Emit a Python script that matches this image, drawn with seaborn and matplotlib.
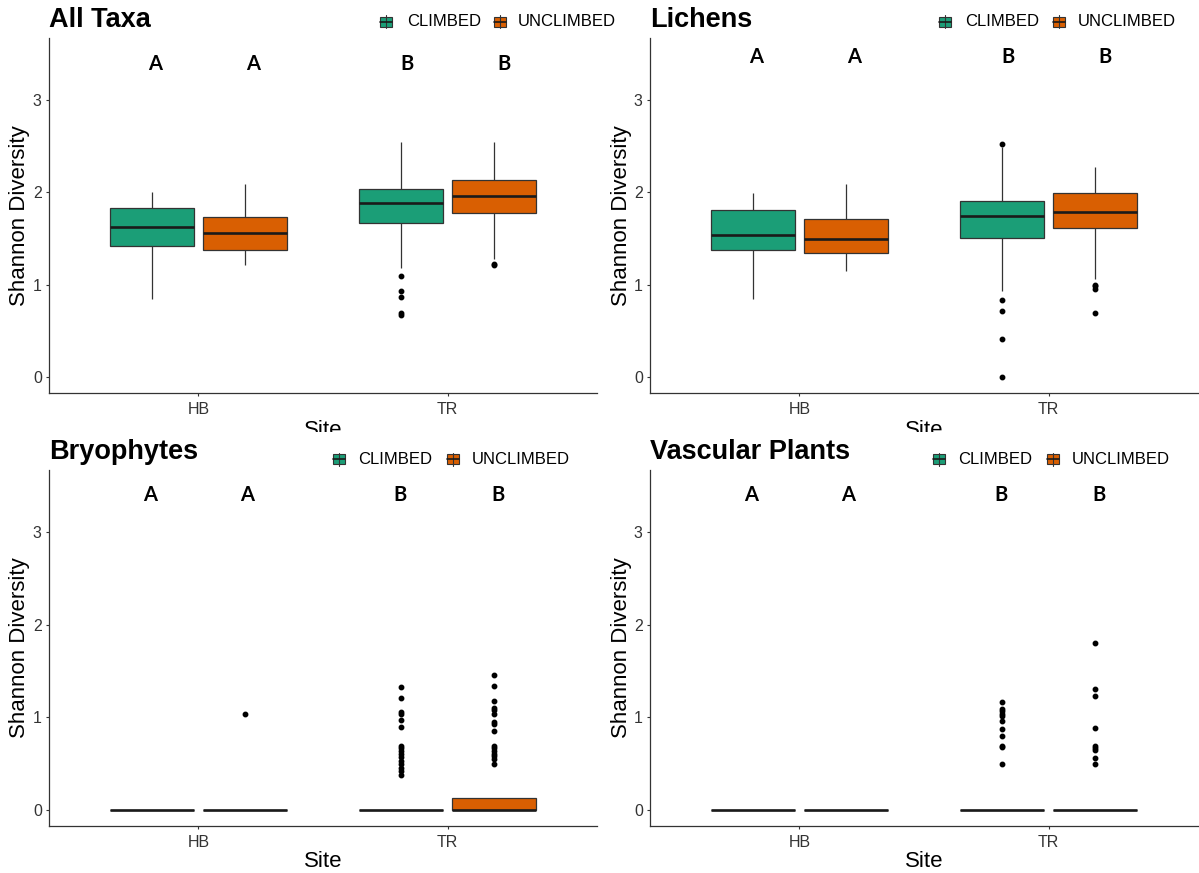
import numpy as np
import pandas as pd
import matplotlib
matplotlib.use("Agg")
import matplotlib.pyplot as plt
import seaborn as sns
from matplotlib.patches import Rectangle
from matplotlib.lines import Line2D
from matplotlib.transforms import Bbox, TransformedBbox

# ---------------- data ----------------
sites = ["HB", "TR"]
treatments = ["CLIMBED", "UNCLIMBED"]
panel_titles = ["All Taxa", "Lichens", "Bryophytes", "Vascular Plants"]
group_letters = ["A", "A", "B", "B"]   # HB-C, HB-U, TR-C, TR-U
colors = ["#1B9E77", "#D95F02"]

# Five-number summaries [lower whisker, Q1, median, Q3, upper whisker]
# group order: HB-CLIMBED, HB-UNCLIMBED, TR-CLIMBED, TR-UNCLIMBED
all_taxa_stats = [
    [0.84, 1.42, 1.62, 1.83, 2.00],
    [1.21, 1.38, 1.565, 1.73, 2.09],
    [1.18, 1.67, 1.89, 2.04, 2.55],
    [1.275, 1.78, 1.96, 2.13, 2.55],
]
all_taxa_outliers = [
    [],
    [],
    [1.09, 0.93, 0.87, 0.69, 0.67],
    [1.22, 1.21],
]

lichens_stats = [
    [0.84, 1.38, 1.54, 1.81, 1.995],
    [1.15, 1.34, 1.50, 1.71, 2.09],
    [0.93, 1.51, 1.74, 1.91, 2.49],
    [1.06, 1.61, 1.79, 1.99, 2.28],
]
lichens_outliers = [
    [],
    [],
    [2.53, 0.83, 0.71, 0.41, 0.0],
    [1.00, 0.98, 0.955, 0.69],
]

bryophytes_stats = [
    [0.0, 0.0, 0.0, 0.0, 0.0],
    [0.0, 0.0, 0.0, 0.0, 0.0],
    [0.0, 0.0, 0.0, 0.0, 0.0],
    [0.0, 0.0, 0.0, 0.125, 0.125],
]
bryophytes_outliers = [
    [],
    [1.036],
    [1.326, 1.211, 1.054, 1.037, 0.975, 0.891, 0.692, 0.667, 0.638,
     0.602, 0.566, 0.529, 0.493, 0.457, 0.421, 0.377],
    [1.461, 1.334, 1.182, 1.102, 1.084, 1.037, 0.953, 0.928, 0.855,
     0.692, 0.667, 0.638, 0.609, 0.584, 0.554, 0.50],
]

vascular_stats = [
    [0.0, 0.0, 0.0, 0.0, 0.0],
    [0.0, 0.0, 0.0, 0.0, 0.0],
    [0.0, 0.0, 0.0, 0.0, 0.0],
    [0.0, 0.0, 0.0, 0.0, 0.0],
]
vascular_outliers = [
    [],
    [],
    [1.163, 1.091, 1.065, 1.037, 1.011, 0.964, 0.874, 0.793, 0.692, 0.674, 0.50],
    [1.809, 1.309, 1.236, 0.885, 0.692, 0.667, 0.646, 0.565, 0.50],
]

panel_stats = [all_taxa_stats, lichens_stats, bryophytes_stats, vascular_stats]
panel_outliers = [all_taxa_outliers, lichens_outliers, bryophytes_outliers, vascular_outliers]
letter_heights = [3.39, 3.47, 3.41, 3.41]


def panel_frame(stats, outliers, reps=40):
    """Rebuild observations whose box statistics equal the read summaries."""
    rows = []
    for gi, (s, o) in enumerate(zip(stats, outliers)):
        site = sites[gi // 2]
        trt = treatments[gi % 2]
        lo, q1, med, q3, hi = s
        vals = [lo] + [q1] * reps + [med] * reps + [q3] * reps + [hi] + list(o)
        rows += [(site, trt, v) for v in vals]
    return pd.DataFrame(rows, columns=["Site", "Treatment", "Shannon"])


# ---------------- styling ----------------
sns.set_style("ticks")
plt.rcParams["font.family"] = ["Liberation Sans", "DejaVu Sans"]

W, H = 1199, 873
fig = plt.figure(figsize=(W / 100, H / 100), dpi=100)
fig.patch.set_facecolor("white")


def fx(x):
    return x / W


def fy(y):
    return 1 - y / H


axes_px = [(49, 38, 597, 393), (650, 38, 1198, 393),
           (49, 470, 597, 826), (650, 470, 1198, 826)]
title_baselines = [27, 27, 459, 459]
legend_px = [(380, 407, 494, 518, 21.7), (939, 965, 1053, 1078, 21.7),
             (333, 358.6, 447, 472, 459), (933, 958.6, 1047, 1072, 459)]
site_baselines = [436, 436, 867, 867]
# small horizontal nudges of the letters (data units), top row / bottom row
letter_nudges = [[0.012, 0.03, 0.025, 0.04], [0.012, 0.03, 0.025, 0.04],
                 [-0.008, 0.008, -0.004, 0.016], [-0.008, 0.008, -0.004, 0.016]]

dark = "#333333"

for i in range(4):
    l, t, r, b = axes_px[i]
    ax = fig.add_axes([fx(l), fy(b), (r - l) / W, (b - t) / H])
    df = panel_frame(panel_stats[i], panel_outliers[i])
    sns.boxplot(
        data=df, x="Site", y="Shannon", hue="Treatment",
        order=sites, hue_order=treatments, palette=colors, saturation=1,
        width=0.75, gap=0.1, linecolor=dark, linewidth=0.9,
        fliersize=3.2,
        flierprops=dict(marker="o", markerfacecolor="black",
                        markeredgecolor="black"),
        medianprops=dict(color="#1a1a1a", linewidth=1.9),
        capprops=dict(linewidth=0),
        legend=False, ax=ax,
    )
    ax.set_xlim(-0.6, 1.6)
    ax.set_ylim(-0.175, 3.675)
    ax.set_yticks([0, 1, 2, 3])
    ax.set_yticklabels(["0", "1", "2", "3"])
    ax.set_xlabel("")
    ax.set_ylabel("")
    for side in ["top", "right"]:
        ax.spines[side].set_visible(False)
    for side in ["left", "bottom"]:
        ax.spines[side].set_color(dark)
        ax.spines[side].set_linewidth(0.9)
    ax.tick_params(axis="both", length=2.2, width=0.8, color=dark,
                   labelcolor=dark, labelsize=11.5)
    ax.tick_params(axis="x", pad=4.3)
    ax.tick_params(axis="y", pad=3)
    ax.grid(False)

    # significance letters
    for gi, letter in enumerate(group_letters):
        xpos = (gi // 2) + (-0.1875 if gi % 2 == 0 else 0.1875) + letter_nudges[i][gi]
        ax.text(xpos, letter_heights[i], letter, ha="center", va="center",
                fontsize=14.5, fontweight="bold", family=["Lato", "DejaVu Sans"],
                color="black")

    # panel title
    fig.text(fx(l), fy(title_baselines[i]), panel_titles[i], ha="left",
             va="baseline", fontsize=19.5, fontweight="bold", color="black")

    # y axis title
    fig.text(fx(l - 29), fy((t + b) / 2), "Shannon Diversity", rotation=90,
             ha="center", va="center", fontsize=16, color="black")

    # x axis title (top row is partly hidden by the lower panels)
    st = fig.text(fx((l + r) / 2), fy(site_baselines[i]), "Site",
                  ha="center", va="baseline", fontsize=16, color="black")
    if i < 2:
        st.set_clip_on(True)
        st.set_clip_box(TransformedBbox(
            Bbox.from_extents(0, fy(432), 1, 1), fig.transFigure))

    # legend
    k1, t1, k2, t2, yc = legend_px[i]
    for kx, tx, col, lab in [(k1, t1, colors[0], treatments[0]),
                             (k2, t2, colors[1], treatments[1])]:
        fig.add_artist(Line2D([fx(kx + 6), fx(kx + 6)],
                              [fy(yc + 6.5), fy(yc - 6.5)],
                              transform=fig.transFigure, color=dark, lw=0.8))
        fig.add_artist(Rectangle((fx(kx), fy(yc + 5)), 12 / W, 10 / H,
                                 transform=fig.transFigure, facecolor=col,
                                 edgecolor=dark, lw=0.8))
        fig.add_artist(Line2D([fx(kx), fx(kx + 12)], [fy(yc), fy(yc)],
                              transform=fig.transFigure, color="#1a1a1a",
                              lw=1.2))
        fig.text(fx(tx), fy(yc), lab, ha="left", va="center", fontsize=12,
                 color="black")

fig.savefig("out.png", dpi=100, facecolor="white")
